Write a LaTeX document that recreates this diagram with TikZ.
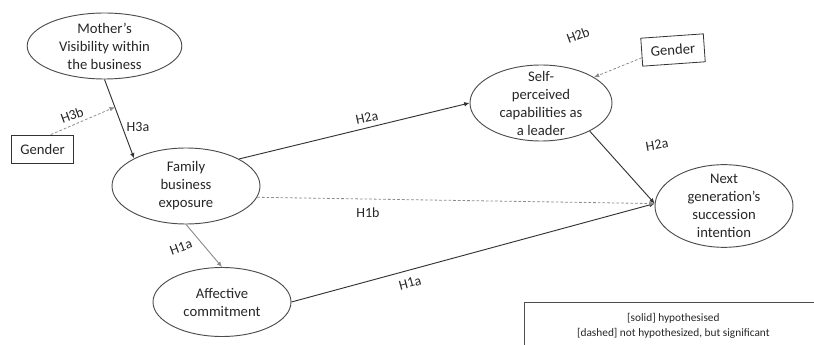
\documentclass[tikz,border=0pt]{standalone}
\usepackage{fontspec}
\setmainfont{Carlito}
\usetikzlibrary{shapes.geometric,arrows.meta}

\begin{document}
\begin{tikzpicture}[x=0.75pt, y=-0.75pt,
    every node/.style={font=\fontsize{11}{13.5}\selectfont, text=black!85},
    construct/.style={ellipse, draw=black!70, line width=0.7pt, align=center, inner xsep=0pt, inner ysep=-8pt},
    gendbox/.style={rectangle, draw=black!80, line width=0.6pt, minimum width=47pt, minimum height=21pt},
    hyp/.style={-{Latex[length=4pt,width=3.5pt]}, draw=black!80, line width=0.7pt},
    nothyp/.style={-{Latex[length=4pt,width=3.5pt]}, draw=black!45, dash pattern=on 2pt off 1.5pt, line width=0.6pt},
    hlabel/.style={font=\fontsize{10.5}{12}\selectfont},
    legendbox/.style={draw=black!70, line width=0.6pt, align=center, font=\fontsize{8.5}{11.25}\selectfont}]
		% Frame
		\useasboundingbox (0,0) rectangle (814,345);
		
		% Constructs
		\node[construct, minimum width=116pt, minimum height=49.5pt] (moth) at (104.5,46) {Mother’s\\Visibility within\\the business};
		\node[construct, minimum width=111pt, minimum height=57pt] (fam) at (186,186) {Family\\business\\exposure};
		\node[construct, minimum width=103.5pt, minimum height=51.75pt] (aff) at (222,302) {Affective\\commitment};
		\node[construct, minimum width=106.5pt, minimum height=57pt] (self) at (541,103) {Self-\\perceived\\capabilities as\\a leader};
		\node[construct, minimum width=103.5pt, minimum height=62pt] (next) at (724,206) {Next\\generation’s\\succession\\intention};
		
		% Moderators
		\node[gendbox] (genL) at (42.5,149) {Gender};
		\node[gendbox, rotate=4] (genR) at (673,50) {Gender};
		
		% Hypothesised paths
		\draw[hyp] (moth.south) -- coordinate[pos=.35] (modL) (fam.152);
		\draw[hyp] (fam.27) -- (self.west);
		\draw[hyp] (self.-30) -- (next.178);
		\draw[hyp] (aff.east) -- (next.178);
		\draw[hyp, draw=black!45] (fam.south) -- (aff.north);
		
		% Not hypothesised
		\draw[nothyp] (fam.-9) -- (next.178);
		\draw[nothyp] (genL.60) -- (modL);
		\draw[nothyp] (genR.190) -- (self.26);
		
		% Path labels
		\node[hlabel] (lH3a) at (138,127) {H3a};
		\node[hlabel, rotate=20] (lH3b) at (72,115) {H3b};
		\node[hlabel, rotate=12] (lH2a) at (367,118) {H2a};
		\node[hlabel] (lH1b) at (368,213) {H1b};
		\node[hlabel, rotate=20] (lH1aL) at (181,247) {H1a};
		\node[hlabel, rotate=15] (lH1aR) at (410,283) {H1a};
		\node[hlabel, rotate=10] (lH2aR) at (657,145) {H2a};
		\node[hlabel, rotate=20] (lH2b) at (578,35) {H2b};
		
		% Legend
		\begin{scope}
		\clip (0,0) rectangle (814,345);
		\node[legendbox, anchor=north west, minimum width=223.5pt, minimum height=35.25pt] (leg) at (524,302) {[solid] hypothesised\\{}[dashed] not hypothesized, but significant};
		\end{scope}
\end{tikzpicture}
\end{document}
